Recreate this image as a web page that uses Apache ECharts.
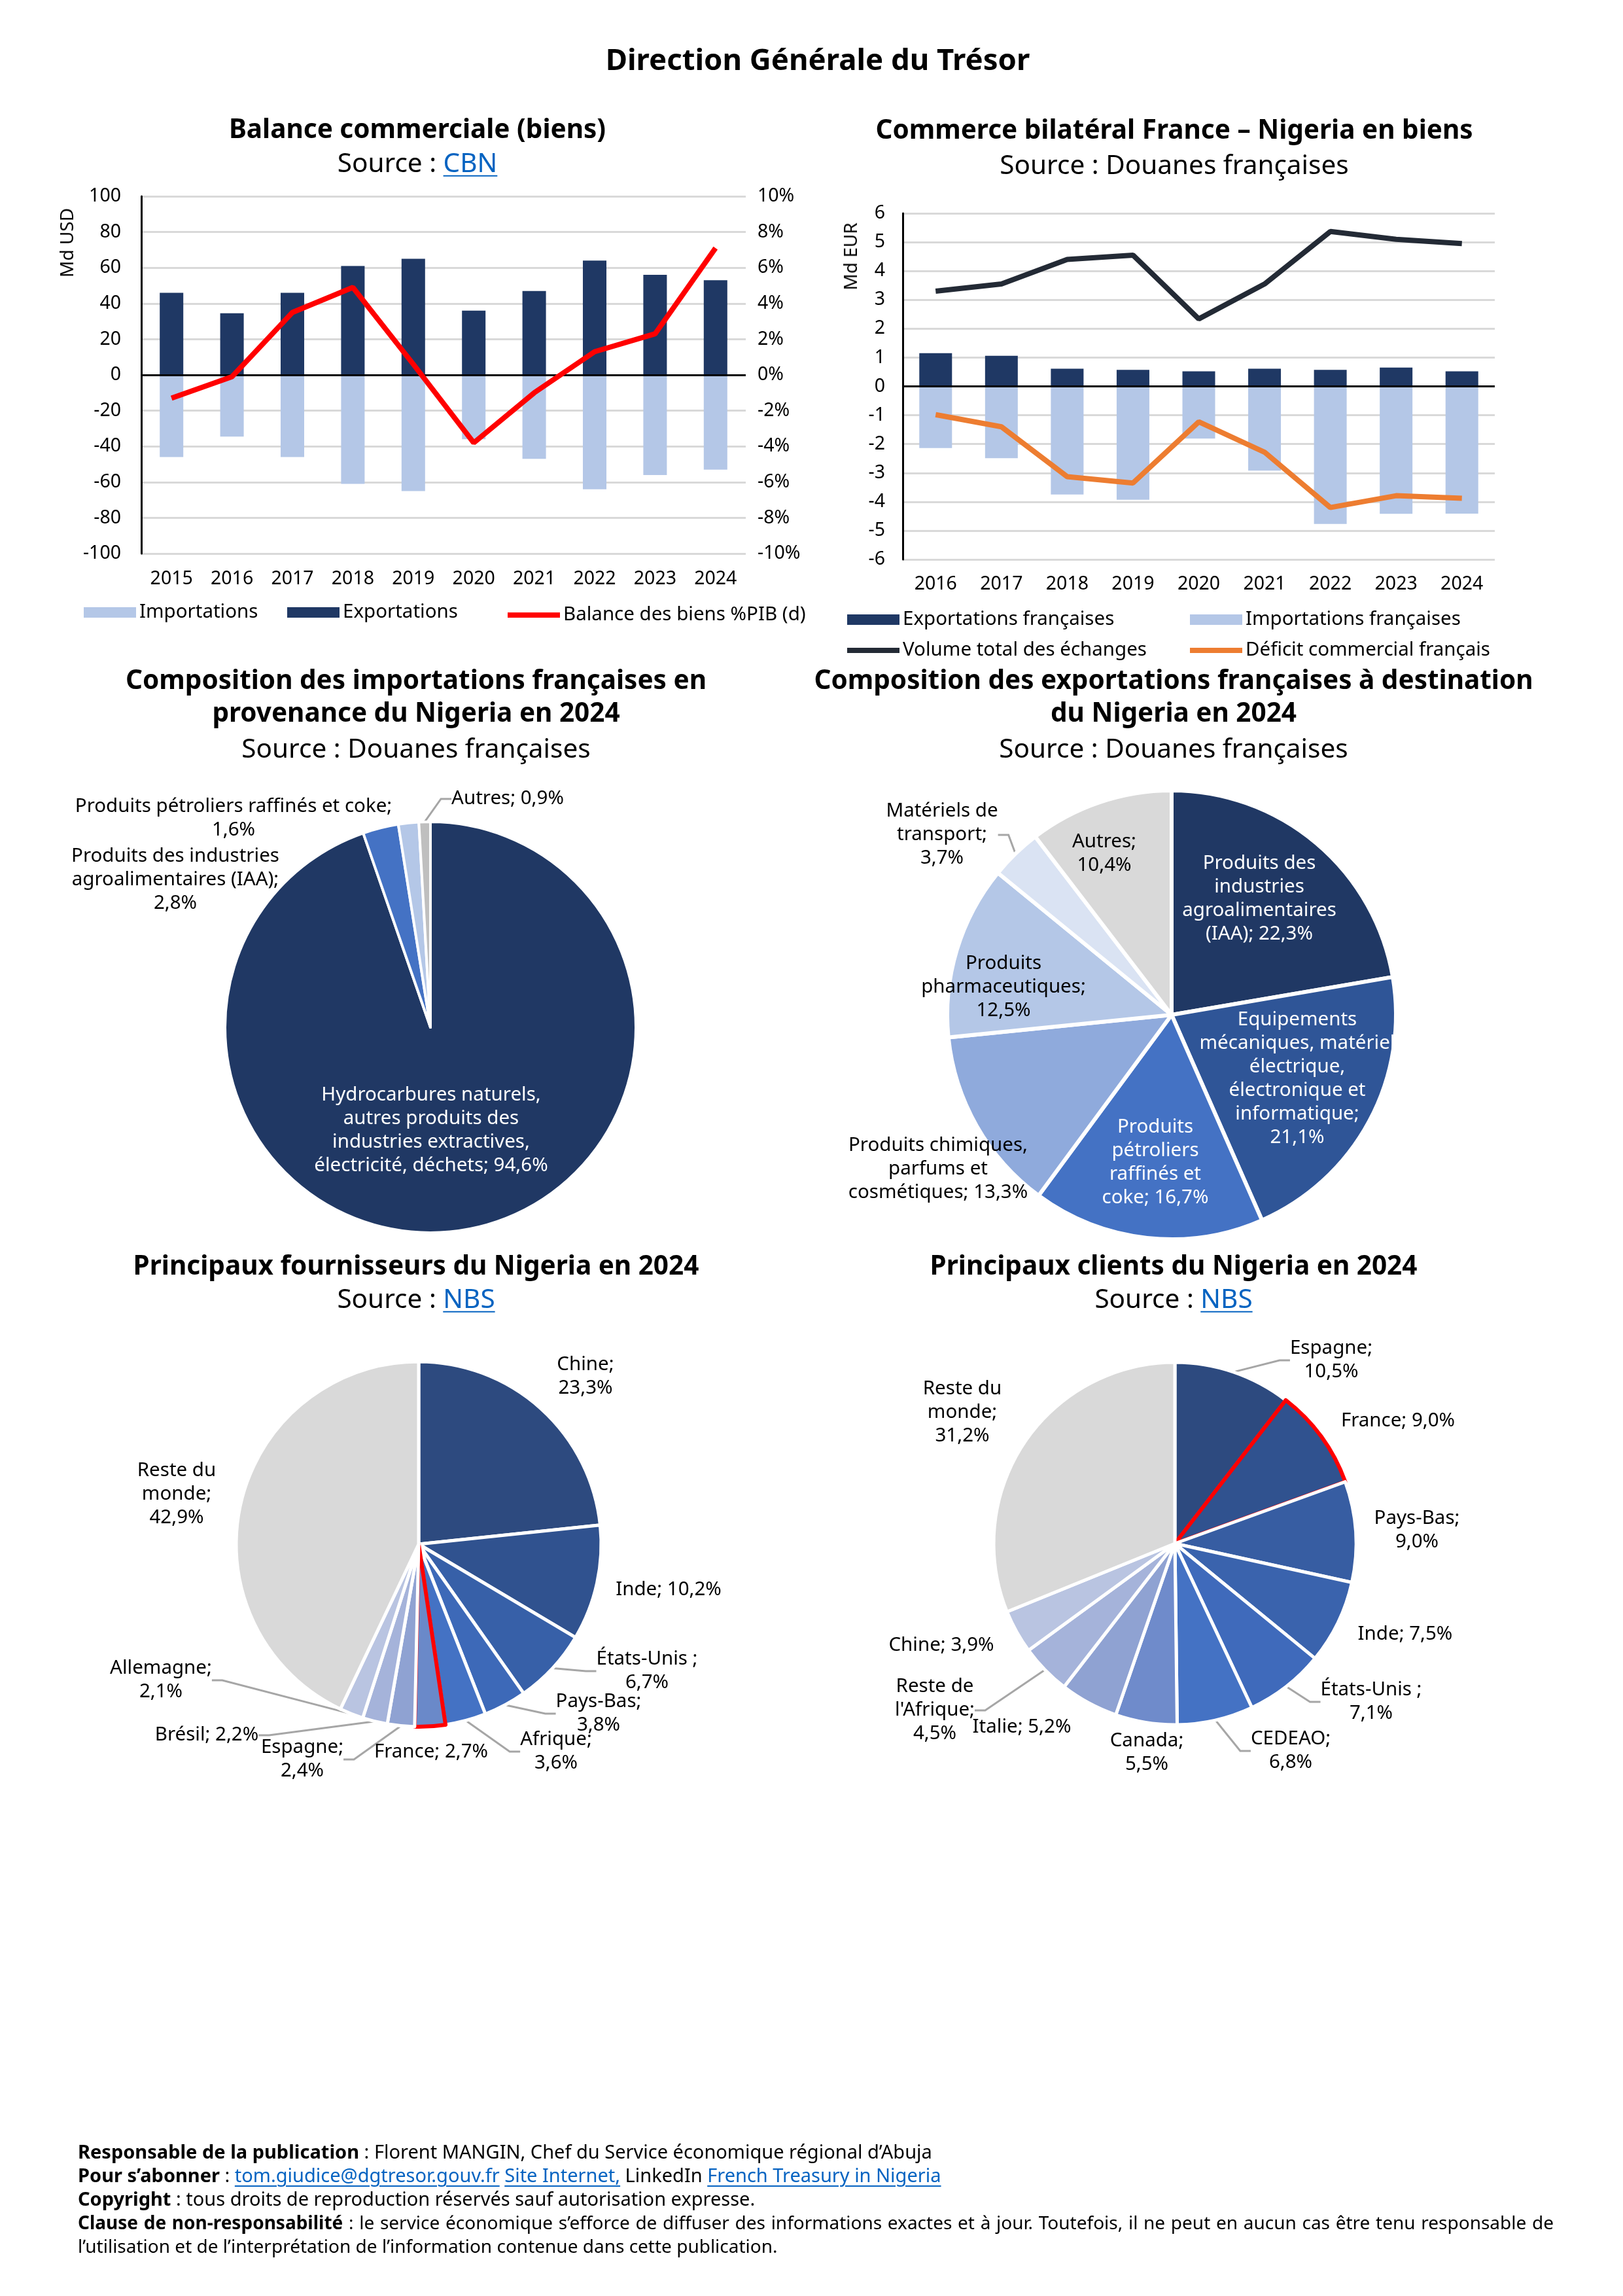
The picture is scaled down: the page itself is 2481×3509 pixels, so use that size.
<!DOCTYPE html>
<html lang="fr">
<head>
<meta charset="utf-8">
<title>Direction Générale du Trésor – Nigeria</title>
<script src="https://cdn.jsdelivr.net/npm/echarts@6/dist/echarts.min.js"></script>
<style>
html,body{margin:0;padding:0;background:#fff;}
#page{position:relative;width:2481px;height:3509px;overflow:hidden;font-family:'Noto Sans',sans-serif;color:#000;}
#chart{position:absolute;left:0;top:0;width:2481px;height:3509px;}
.t{position:absolute;white-space:nowrap;transform:translate(-50%,-50%);line-height:1;text-align:center;}
.b{font-weight:700;font-size:40.5px;}
.s{font-size:40.5px;}
.lk{color:#0563C1;text-decoration:underline;text-decoration-thickness:2px;text-underline-offset:5px;}
.rot{position:absolute;transform:translate(-50%,-50%) rotate(-90deg);font-size:28px;white-space:nowrap;line-height:1;}
#footer{position:absolute;left:119px;top:3270px;width:2256px;font-size:29px;line-height:36px;}
#footer .j{text-align:justify;font-size:28px;}
</style>
</head>
<body>
<div id="page">
  <div id="chart"></div>

  <div class="t b" style="left:1250px;top:90px;font-size:45.5px;">Direction Générale du Trésor</div>

  <div class="t b" style="left:638px;top:196px;">Balance commerciale (biens)</div>
  <div class="t s" style="left:638px;top:248px;">Source : <span class="lk">CBN</span></div>

  <div class="t b" style="left:1795px;top:197px;">Commerce bilatéral France – Nigeria en biens</div>
  <div class="t s" style="left:1795px;top:251px;">Source : Douanes françaises</div>

  <div class="t b" style="left:636px;top:1038px;">Composition des importations françaises en</div>
  <div class="t b" style="left:636px;top:1088px;">provenance du Nigeria en 2024</div>
  <div class="t s" style="left:636px;top:1143px;">Source : Douanes françaises</div>

  <div class="t b" style="left:1794px;top:1038px;">Composition des exportations françaises à destination</div>
  <div class="t b" style="left:1794px;top:1088px;">du Nigeria en 2024</div>
  <div class="t s" style="left:1794px;top:1143px;">Source : Douanes françaises</div>

  <div class="t b" style="left:636px;top:1933px;">Principaux fournisseurs du Nigeria en 2024</div>
  <div class="t s" style="left:636px;top:1984px;">Source : <span class="lk">NBS</span></div>

  <div class="t b" style="left:1794px;top:1933px;">Principaux clients du Nigeria en 2024</div>
  <div class="t s" style="left:1794px;top:1984px;">Source : <span class="lk">NBS</span></div>

  <div class="rot" style="left:101px;top:371px;">Md USD</div>
  <div class="rot" style="left:1299px;top:392px;">Md EUR</div>

  <div id="footer">
    <div><b>Responsable de la publication</b> : Florent MANGIN, Chef du Service économique régional d’Abuja</div>
    <div><b>Pour s’abonner</b> : <span class="lk">tom.giudice@dgtresor.gouv.fr</span> <span class="lk">Site Internet,</span> LinkedIn <span class="lk">French Treasury in Nigeria</span></div>
    <div><b>Copyright</b> : tous droits de reproduction réservés sauf autorisation expresse.</div>
    <div class="j"><b>Clause de non-responsabilité</b> : le service économique s’efforce de diffuser des informations exactes et à jour. Toutefois, il ne peut en aucun cas être tenu responsable de l’utilisation et de l’interprétation de l’information contenue dans cette publication.</div>
  </div>
</div>

<script>
// ---------------- DATA ----------------
// Balance commerciale (biens), Md USD and % PIB
const YEARS_BAL = ['2015','2016','2017','2018','2019','2020','2021','2022','2023','2024'];
const IMPORTS_BAL = [-46, -34.5, -46, -61, -65, -36, -47, -64, -56, -53];
const EXPORTS_BAL = [46, 34.5, 46, 61, 65, 36, 47, 64, 56, 53];
const BALANCE_PIB = [-1.3, -0.1, 3.5, 4.9, 0.6, -3.8, -1.0, 1.3, 2.3, 7.1];
const TICKS_USD = [-100, -80, -60, -40, -20, 0, 20, 40, 60, 80, 100];
const TICKS_PIB = [-10, -8, -6, -4, -2, 0, 2, 4, 6, 8, 10];

// Commerce bilatéral France – Nigeria, Md EUR
const YEARS_BIL = ['2016','2017','2018','2019','2020','2021','2022','2023','2024'];
const EXPORTS_FR = [1.15, 1.06, 0.61, 0.57, 0.52, 0.61, 0.57, 0.65, 0.52];
const IMPORTS_FR = [-2.14, -2.49, -3.75, -3.93, -1.81, -2.92, -4.77, -4.42, -4.41];
const VOLUME_FR = [3.30, 3.55, 4.40, 4.55, 2.34, 3.55, 5.37, 5.10, 4.95];
const DEFICIT_FR = [-0.98, -1.40, -3.13, -3.35, -1.23, -2.28, -4.20, -3.79, -3.88];
const TICKS_EUR = [-6, -5, -4, -3, -2, -1, 0, 1, 2, 3, 4, 5, 6];

// Composition des importations françaises (2024)
const IMP_NAMES = ['Hydrocarbures naturels,\nautres produits des\nindustries extractives,\nélectricité, déchets',
  'Produits des industries\nagroalimentaires (IAA)', 'Produits pétroliers raffinés et coke', 'Autres'];
const IMP_VALUES = [94.6, 2.8, 1.6, 0.9];

// Composition des exportations françaises (2024)
const EXP_NAMES = ['Produits des\nindustries\nagroalimentaires\n(IAA)',
  'Equipements\nmécaniques, matériel\nélectrique,\nélectronique et\ninformatique',
  'Produits\npétroliers\nraffinés et\ncoke', 'Produits chimiques,\nparfums et\ncosmétiques',
  'Produits\npharmaceutiques', 'Matériels de\ntransport', 'Autres'];
const EXP_VALUES = [22.3, 21.1, 16.7, 13.3, 12.5, 3.7, 10.4];

// Principaux fournisseurs (2024)
const SUP_NAMES = ['Chine', 'Inde', 'États-Unis ', 'Pays-Bas', 'Afrique', 'France', 'Espagne', 'Brésil', 'Allemagne', 'Reste du\nmonde'];
const SUP_VALUES = [23.3, 10.2, 6.7, 3.8, 3.6, 2.7, 2.4, 2.2, 2.1, 42.9];

// Principaux clients (2024)
const CLI_NAMES = ['Espagne', 'France', 'Pays-Bas', 'Inde', 'États-Unis ', 'CEDEAO', 'Canada', 'Italie', 'Reste de\nl\'Afrique', 'Chine', 'Reste du\nmonde'];
const CLI_VALUES = [10.5, 9.0, 9.0, 7.5, 7.1, 6.8, 5.5, 5.2, 4.5, 3.9, 31.2];

// ---------------- STYLE / LAYOUT ----------------
const FONT = "'Noto Sans', sans-serif";
const NAVY = '#1F3864', LIGHT = '#B4C7E7', GRID = '#D9D9D9';

const IMP_COLORS = ['#203864', '#4472C4', '#B4C7E7', '#BFBFBF'];
const EXP_COLORS = ['#203864', '#2F5597', '#4472C4', '#8FAADC', '#B4C7E7', '#DAE3F3', '#D9D9D9'];
const SUP_COLORS = ['#2D4A7F', '#30528F', '#3760A8', '#3D69B8', '#4472C4', '#6A89C9', '#8FA2D2', '#A5B3DA', '#B9C4E1', '#D9D9D9'];
const CLI_COLORS = ['#2D4A7F', '#30528F', '#375DA2', '#3A63AD', '#3F6ABB', '#4472C4', '#6F8BCB', '#8FA2D2', '#A5B3DA', '#B9C4E1', '#D9D9D9'];

// label layout: x, y (label centre), s = separator before value, c = colour, l = leader line
const IMP_LAB = [
  {x: 659, y: 1728, s: ' ', c: '#fff'},
  {x: 268, y: 1345, s: '\n'},
  {x: 357, y: 1251, s: '\n'},
  {x: 776, y: 1221, s: ' ', l: 1}
];
const EXP_LAB = [
  {x: 1925, y: 1374, s: ' ', c: '#fff'},
  {x: 1983, y: 1649, s: '\n', c: '#fff'},
  {x: 1766, y: 1777, s: ' ', c: '#fff'},
  {x: 1434, y: 1787, s: ' '},
  {x: 1534, y: 1509, s: '\n'},
  {x: 1440, y: 1276, s: '\n', l: 1},
  {x: 1688, y: 1305, s: '\n'}
];
const SUP_LAB = [
  {x: 895, y: 2104, s: '\n'},
  {x: 1022, y: 2430, s: ' '},
  {x: 989, y: 2554, s: '\n', l: 1},
  {x: 915, y: 2619, s: '\n', l: 1},
  {x: 850, y: 2677, s: '\n', l: 1},
  {x: 659, y: 2678, s: ' '},
  {x: 462, y: 2689, s: '\n', l: 1},
  {x: 316, y: 2652, s: ' ', l: 1},
  {x: 246, y: 2568, s: '\n', l: 1},
  {x: 270, y: 2284, s: '\n'}
];
const CLI_LAB = [
  {x: 2035, y: 2079, s: '\n', l: 1},
  {x: 2137, y: 2172, s: ' '},
  {x: 2166, y: 2339, s: '\n'},
  {x: 2148, y: 2498, s: ' '},
  {x: 2096, y: 2601, s: '\n', l: 1},
  {x: 1973, y: 2676, s: '\n', l: 1},
  {x: 1753, y: 2679, s: '\n'},
  {x: 1562, y: 2640, s: ' '},
  {x: 1429, y: 2614, s: '\n', l: 1},
  {x: 1439, y: 2515, s: ' '},
  {x: 1471, y: 2159, s: '\n'}
];

function pct(v) { return v.toFixed(1).replace('.', ',') + '%'; }

function pieSeries(names, values, colors, lab, center, radius, borderW, redIndex) {
  return {
    type: 'pie',
    center: center,
    radius: radius,
    startAngle: 90,
    clockwise: true,
    animation: false,
    silent: true,
    avoidLabelOverlap: false,
    itemStyle: {borderColor: '#fff', borderWidth: borderW},
    label: {show: true, position: 'outside', fontFamily: FONT, fontSize: 29.5, lineHeight: 36, color: '#000', align: 'center'},
    labelLine: {show: true, length: 12, length2: 16, lineStyle: {color: '#A6A6A6', width: 3}},
    data: values.map(function (v, i) {
      var item = {
        value: v,
        name: names[i],
        itemStyle: {color: colors[i]},
        label: {color: lab[i].c || '#000', formatter: (function (t) { return function () { return t; }; })(names[i] + ';' + lab[i].s + pct(v))},
        labelLine: {show: !!lab[i].l}
      };
      if (i === redIndex) { item.itemStyle.borderColor = '#FF0000'; item.itemStyle.borderWidth = 6; }
      return item;
    }),
    labelLayout: function (p) {
      var L = lab[p.dataIndex];
      return {x: L.x, y: L.y, align: 'center', verticalAlign: 'middle'};
    }
  };
}

function axisFromTicks(ticks) {
  return {min: ticks[0], max: ticks[ticks.length - 1], interval: ticks[1] - ticks[0]};
}

const axisText = {fontFamily: FONT, fontSize: 28.5, color: '#000'};
const legendText = {fontFamily: FONT, fontSize: 29.5, color: '#000'};

function legendAt(name, left, top, isLine) {
  return {
    data: [name], left: left, top: isLine ? top + 4 : top, orient: 'horizontal',
    icon: 'rect',
    itemWidth: 80, itemHeight: isLine ? 8 : 16, itemGap: 0, selectedMode: false,
    textStyle: legendText, padding: 0
  };
}

const chart = echarts.init(document.getElementById('chart'), null, {renderer: 'canvas'});

const usd = axisFromTicks(TICKS_USD), pib = axisFromTicks(TICKS_PIB), eur = axisFromTicks(TICKS_EUR);

const option = {
  animation: false,
  textStyle: {fontFamily: FONT},
  grid: [
    {left: 216, top: 300, width: 924, height: 546},
    {left: 1380, top: 326, width: 905, height: 529}
  ],
  xAxis: [
    {type: 'category', gridIndex: 0, data: YEARS_BAL, axisLine: {show: false, onZero: false}, axisTick: {show: false},
     axisLabel: Object.assign({margin: 24}, axisText)},
    {type: 'category', gridIndex: 1, data: YEARS_BIL, axisLine: {show: false, onZero: false}, axisTick: {show: false},
     axisLabel: Object.assign({margin: 23}, axisText)}
  ],
  yAxis: [
    {type: 'value', gridIndex: 0, min: usd.min, max: usd.max, interval: usd.interval,
     axisLine: {show: true, lineStyle: {color: '#000', width: 3}}, axisTick: {show: false},
     splitLine: {lineStyle: {color: GRID, width: 3}}, axisLabel: Object.assign({margin: 31}, axisText)},
    {type: 'value', gridIndex: 0, position: 'right', min: pib.min, max: pib.max, interval: pib.interval,
     axisLine: {show: false}, axisTick: {show: false}, splitLine: {show: false},
     axisLabel: Object.assign({margin: 18, formatter: '{value}%'}, axisText)},
    {type: 'value', gridIndex: 1, min: eur.min, max: eur.max, interval: eur.interval,
     axisLine: {show: true, lineStyle: {color: '#000', width: 3}}, axisTick: {show: false},
     splitLine: {lineStyle: {color: GRID, width: 3}}, axisLabel: Object.assign({margin: 27}, axisText)}
  ],
  legend: [
    legendAt('Importations', 128, 921),
    legendAt('Exportations', 439, 921),
    legendAt('Balance des biens %PIB (d)', 776, 921, true),
    legendAt('Exportations françaises', 1295, 932),
    legendAt('Importations françaises', 1819, 932),
    legendAt('Volume total des échanges', 1295, 975, true),
    legendAt('Déficit commercial français', 1819, 975, true)
  ],
  series: [
    {name: 'Importations', type: 'bar', xAxisIndex: 0, yAxisIndex: 0, data: IMPORTS_BAL,
     barWidth: 36, barGap: '-100%', itemStyle: {color: LIGHT}, silent: true},
    {name: 'Exportations', type: 'bar', xAxisIndex: 0, yAxisIndex: 0, data: EXPORTS_BAL,
     barWidth: 36, barGap: '-100%', itemStyle: {color: NAVY}, silent: true,
     markLine: {silent: true, symbol: 'none', label: {show: false}, lineStyle: {color: '#000', width: 3, type: 'solid'},
       data: [{yAxis: 0}]}},
    {name: 'Balance des biens %PIB (d)', type: 'line', xAxisIndex: 0, yAxisIndex: 1, data: BALANCE_PIB,
     symbol: 'none', lineStyle: {color: '#FF0000', width: 8}, itemStyle: {color: '#FF0000'}, z: 5},

    {name: 'Exportations françaises', type: 'bar', xAxisIndex: 1, yAxisIndex: 2, data: EXPORTS_FR,
     barWidth: 50, barGap: '-100%', itemStyle: {color: NAVY}, silent: true,
     markLine: {silent: true, symbol: 'none', label: {show: false}, lineStyle: {color: '#000', width: 3, type: 'solid'},
       data: [{yAxis: 0}]}},
    {name: 'Importations françaises', type: 'bar', xAxisIndex: 1, yAxisIndex: 2, data: IMPORTS_FR,
     barWidth: 50, barGap: '-100%', itemStyle: {color: LIGHT}, silent: true},
    {name: 'Volume total des échanges', type: 'line', xAxisIndex: 1, yAxisIndex: 2, data: VOLUME_FR,
     symbol: 'none', lineStyle: {color: '#232A35', width: 8}, itemStyle: {color: '#232A35'}, z: 5},
    {name: 'Déficit commercial français', type: 'line', xAxisIndex: 1, yAxisIndex: 2, data: DEFICIT_FR,
     symbol: 'none', lineStyle: {color: '#ED7D31', width: 8}, itemStyle: {color: '#ED7D31'}, z: 5},

    pieSeries(IMP_NAMES, IMP_VALUES, IMP_COLORS, IMP_LAB, [658, 1570], 314, 4, -1),
    pieSeries(EXP_NAMES, EXP_VALUES, EXP_COLORS, EXP_LAB, [1791, 1551], 343, 6, -1),
    pieSeries(SUP_NAMES, SUP_VALUES, SUP_COLORS, SUP_LAB, [640, 2360], 279, 5, 5),
    pieSeries(CLI_NAMES, CLI_VALUES, CLI_COLORS, CLI_LAB, [1796, 2359], 277, 5, 1)
  ]
};
chart.setOption(option);
</script>
</body>
</html>
